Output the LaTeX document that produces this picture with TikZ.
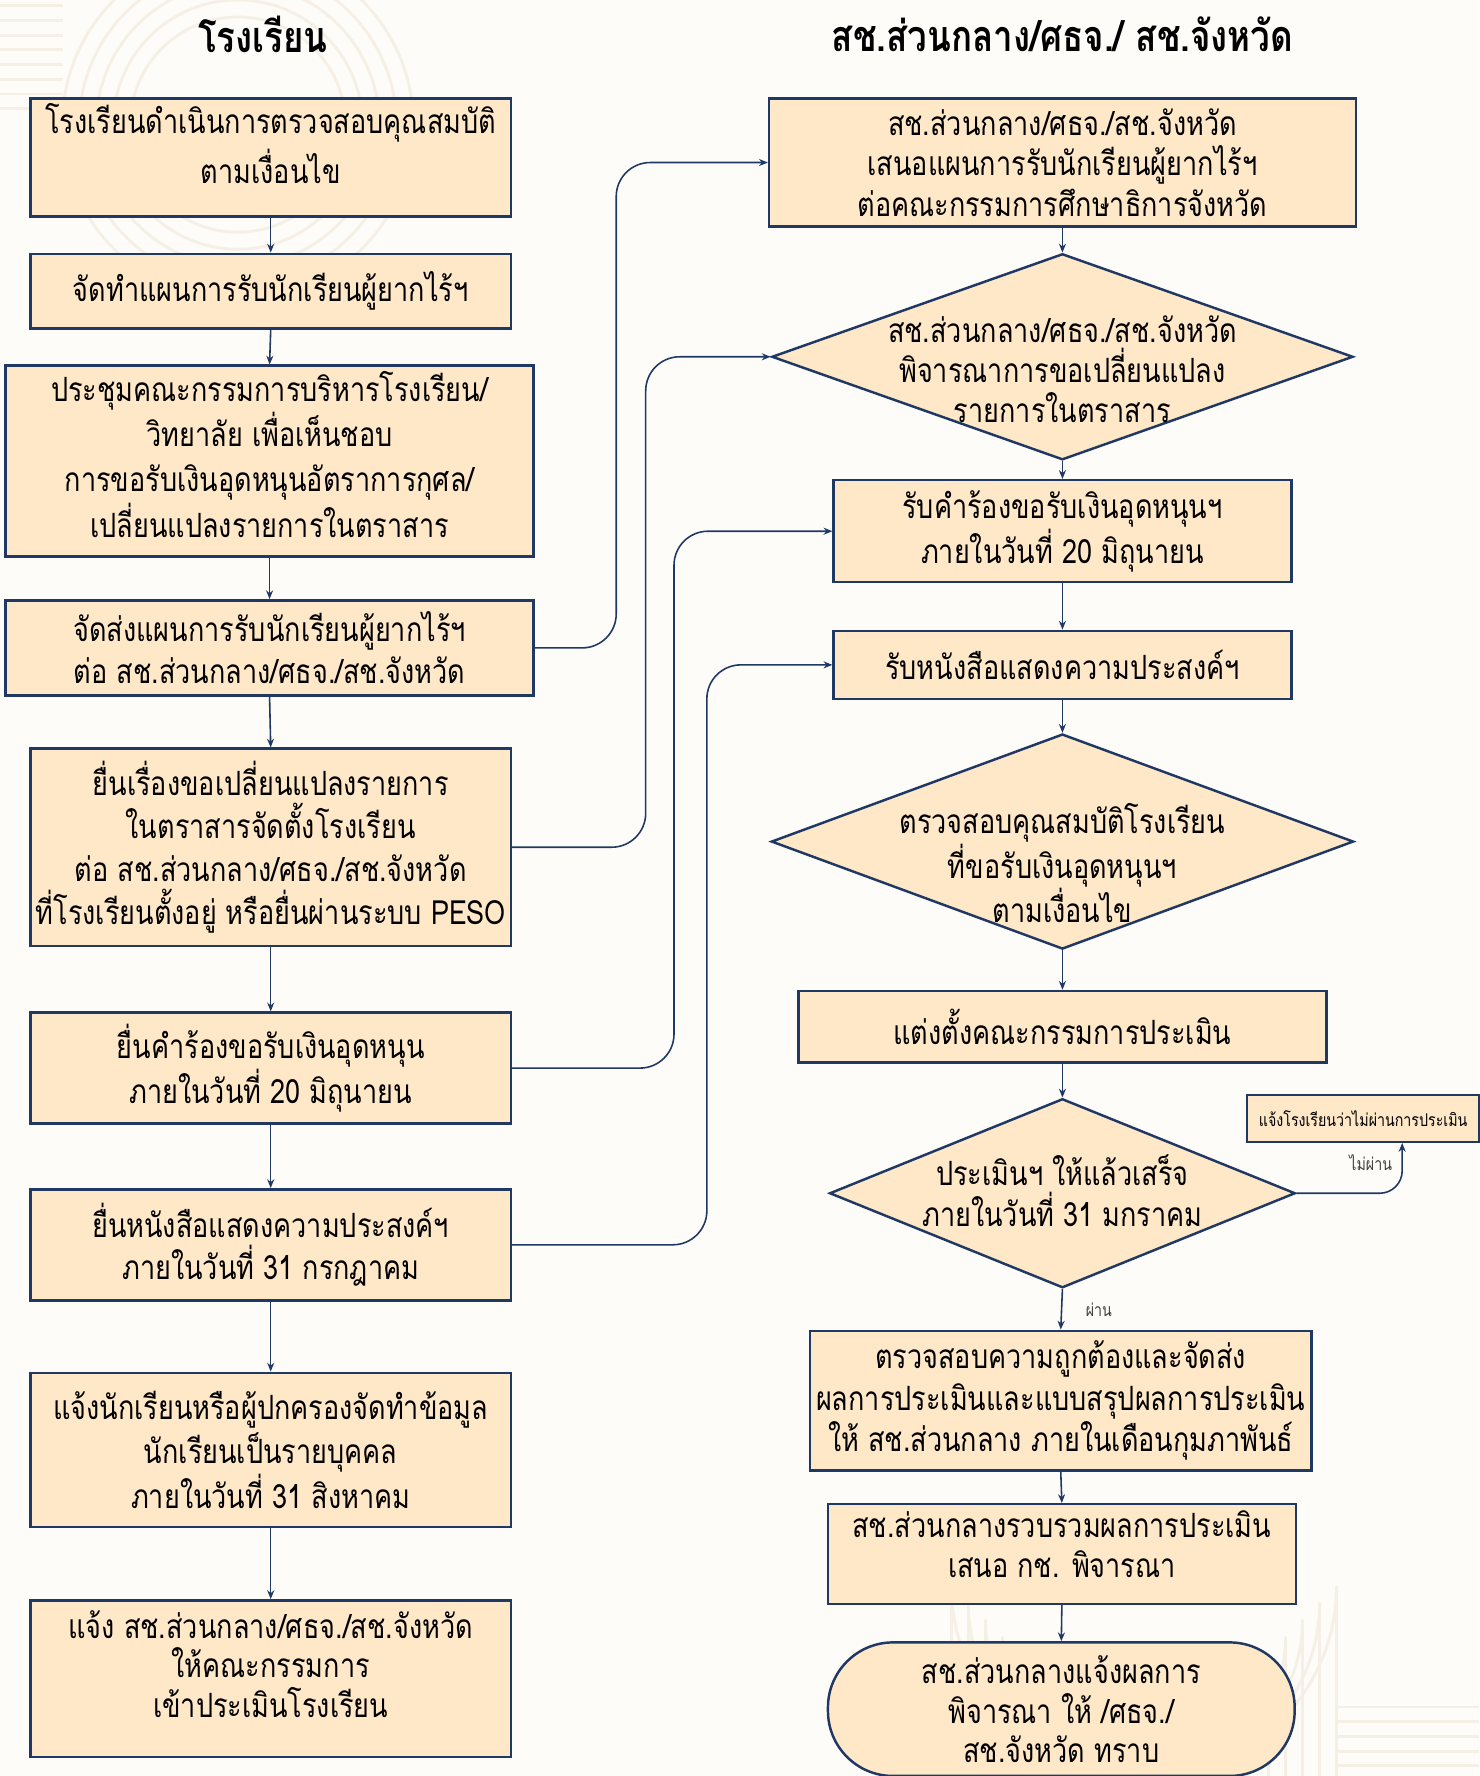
\documentclass[tikz,border=0pt]{standalone}
\usepackage{fontspec}
\setmainfont[Script=Thai, FakeStretch=0.81]{Loma}
\usetikzlibrary{shapes.geometric, arrows.meta}

\begin{document}
\begin{tikzpicture}[x=0.02265cm, y=-0.02265cm]

  % Define Colors
  \definecolor{navy}{HTML}{1F3864}
  \definecolor{peach}{HTML}{FFE8C8}
  \definecolor{paper}{HTML}{FEFCF8}
  \definecolor{faint}{HTML}{F5EFE6}
  \definecolor{greytext}{HTML}{404040}

  % Node styles
  \tikzstyle{head}=[font=\fontsize{24.5}{28}\selectfont\bfseries]
  \tikzstyle{sbox}=[rectangle, draw=navy, line width=1.4pt, fill=peach, align=center, inner sep=2pt, font=\fontsize{19}{22.6}\selectfont]
  \tikzstyle{dbox}=[diamond, draw=navy, line width=1.4pt, fill=peach, inner sep=0pt]
  \tikzstyle{dtext}=[align=center, font=\fontsize{19}{22.6}\selectfont]
  \tikzstyle{ebox}=[sbox, rounded corners=1.3cm]
  \tikzstyle{nbox}=[sbox, font=\fontsize{10}{12}\selectfont]

  \tikzstyle{link}=[navy, line width=0.9pt, rounded corners=0.68cm, -{Stealth[length=5pt, width=4pt]}]
  \tikzstyle{lbl}=[greytext, font=\fontsize{10}{12}\selectfont]
  \tikzstyle{deco}=[faint, line width=1.6pt]

  % Paper
  \fill[paper] (0,0) rectangle (1306,1568);
  \useasboundingbox (0,0) rectangle (1306,1568);

  % Background pattern
  \foreach \r in {95,110,125,140,155}
    \draw[deco] (210,110) circle (\r);
  \foreach \y in {5,18,31,44,57,70,83,96}
    \draw[deco] (0,\y) -- (56,\y);
  \foreach \r in {110,125,140,155,170}
    \draw[deco] (1010-\r,1568) -- (1010-\r,1570-\r) arc (180:0:\r) -- (1010+\r,1568);
  \foreach \y in {1507,1520,1533,1546,1559}
    \draw[deco] (1180,\y) -- (1306,\y);

  % Headings
  \node[head] (h_1) at (232,30) {โรงเรียน};
  \node[head] (h_2) at (938,30) {สช.ส่วนกลาง/ศธจ./ สช.จังหวัด};

  % School column
  \node[sbox, minimum width=9.6cm, minimum height=2.36cm, font=\fontsize{19}{28.4}\selectfont] (l_1) at (239,139) {โรงเรียนดำเนินการตรวจสอบคุณสมบัติ\\ตามเงื่อนไข\\[-12pt]\mbox{}};
  \node[sbox, minimum width=9.6cm, minimum height=1.49cm] (l_2) at (239,257) {จัดทำแผนการรับนักเรียนผู้ยากไร้ฯ};
  \node[sbox, minimum width=10.55cm, minimum height=3.81cm, font=\fontsize{19}{25.8}\selectfont] (l_3) at (238,407) {ประชุมคณะกรรมการบริหารโรงเรียน/\\วิทยาลัย เพื่อเห็นชอบ\\การขอรับเงินอุดหนุนอัตราการกุศล/\\เปลี่ยนแปลงรายการในตราสาร\\[-18pt]\mbox{}};
  \node[sbox, minimum width=10.55cm, minimum height=1.90cm, font=\fontsize{19}{23.8}\selectfont] (l_4) at (238,572) {จัดส่งแผนการรับนักเรียนผู้ยากไร้ฯ\\ต่อ สช.ส่วนกลาง/ศธจ./สช.จังหวัด};
  \node[sbox, minimum width=9.6cm, minimum height=3.94cm, font=\fontsize{19}{24.5}\selectfont] (l_5) at (239,748) {ยื่นเรื่องขอเปลี่ยนแปลงรายการ\\ในตราสารจัดตั้งโรงเรียน\\ต่อ สช.ส่วนกลาง/ศธจ./สช.จังหวัด\\ที่โรงเรียนตั้งอยู่ หรือยื่นผ่านระบบ PESO};
  \node[sbox, minimum width=9.6cm, minimum height=2.22cm] (l_6) at (239,943) {ยื่นคำร้องขอรับเงินอุดหนุน\\ภายในวันที่ 20 มิถุนายน};
  \node[sbox, minimum width=9.6cm, minimum height=2.22cm, font=\fontsize{19}{23.8}\selectfont] (l_7) at (239,1099) {ยื่นหนังสือแสดงความประสงค์ฯ\\ภายในวันที่ 31 กรกฎาคม};
  \node[sbox, minimum width=9.6cm, minimum height=3.08cm, font=\fontsize{19}{25.5}\selectfont] (l_8) at (239,1280) {แจ้งนักเรียนหรือผู้ปกครองจัดทำข้อมูล\\นักเรียนเป็นรายบุคคล\\ภายในวันที่ 31 สิงหาคม};
  \node[sbox, minimum width=9.6cm, minimum height=3.13cm] (l_9) at (239,1482) {แจ้ง สช.ส่วนกลาง/ศธจ./สช.จังหวัด\\ให้คณะกรรมการ\\เข้าประเมินโรงเรียน\\[-6pt]\mbox{}};

  % Office column
  \node[sbox, minimum width=11.73cm, minimum height=2.56cm, font=\fontsize{19}{22.9}\selectfont] (r_1) at (938,143.5) {สช.ส่วนกลาง/ศธจ./สช.จังหวัด\\เสนอแผนการรับนักเรียนผู้ยากไร้ฯ\\ต่อคณะกรรมการศึกษาธิการจังหวัด};
  \node[dbox, minimum width=11.62cm, minimum height=4.12cm] (r_2) at (938,315) {};
  \node[dtext] (r_2t) at (938,326) {สช.ส่วนกลาง/ศธจ./สช.จังหวัด\\พิจารณาการขอเปลี่ยนแปลง\\รายการในตราสาร};
  \node[sbox, minimum width=9.15cm, minimum height=2.04cm] (r_3) at (938,469) {รับคำร้องขอรับเงินอุดหนุนฯ\\ภายในวันที่ 20 มิถุนายน};
  \node[sbox, minimum width=9.15cm, minimum height=1.36cm] (r_4) at (938,587) {รับหนังสือแสดงความประสงค์ฯ};
  \node[dbox, minimum width=11.64cm, minimum height=4.30cm] (r_5) at (938,743) {};
  \node[dtext] (r_5t) at (938,762) {ตรวจสอบคุณสมบัติโรงเรียน\\ที่ขอรับเงินอุดหนุนฯ\\ตามเงื่อนไข};
  \node[sbox, minimum width=10.55cm, minimum height=1.43cm] (r_6) at (938,906.5) {แต่งตั้งคณะกรรมการประเมิน};
  \node[dbox, minimum width=9.31cm, minimum height=3.78cm] (r_7) at (938,1053.5) {};
  \node[dtext, font=\fontsize{19}{23.2}\selectfont] (r_7t) at (938,1051) {ประเมินฯ ให้แล้วเสร็จ\\ภายในวันที่ 31 มกราคม};
  \node[nbox, minimum width=4.64cm, minimum height=0.93cm] (n_1) at (1203.5,987.5) {แจ้งโรงเรียนว่าไม่ผ่านการประเมิน};
  \node[sbox, minimum width=10.03cm, minimum height=2.79cm, font=\fontsize{19}{23.8}\selectfont] (r_8) at (936.5,1236.5) {ตรวจสอบความถูกต้องและจัดส่ง\\ผลการประเมินและแบบสรุปผลการประเมิน\\ให้ สช.ส่วนกลาง ภายในเดือนกุมภาพันธ์};
  \node[sbox, minimum width=9.35cm, minimum height=1.99cm, font=\fontsize{19}{23.2}\selectfont] (r_9) at (937.5,1372) {สช.ส่วนกลางรวบรวมผลการประเมิน\\เสนอ กช. พิจารณา\\[-12pt]\mbox{}};
  \node[ebox, minimum width=9.33cm, minimum height=2.67cm] (r_10) at (937,1509) {สช.ส่วนกลางแจ้งผลการ\\พิจารณา ให้ /ศธจ./\\สช.จังหวัด ทราบ};

  % School links
  \draw[link] (l_1.south) -- (l_2.north);
  \draw[link] (l_2.south) -- (l_3.north);
  \draw[link] (l_3.south) -- (l_4.north);
  \draw[link] (l_4.south) -- (l_5.north);
  \draw[link] (l_5.south) -- (l_6.north);
  \draw[link] (l_6.south) -- (l_7.north);
  \draw[link] (l_7.south) -- (l_8.north);
  \draw[link] (l_8.south) -- (l_9.north);

  % Office links
  \draw[link] (r_1.south) -- (r_2.north);
  \draw[link] (r_2.south) -- (r_3.north);
  \draw[link] (r_3.south) -- (r_4.north);
  \draw[link] (r_4.south) -- (r_5.north);
  \draw[link] (r_5.south) -- (r_6.north);
  \draw[link] (r_6.south) -- (r_7.north);
  \draw[link] (r_7.south) -- node[lbl, midway, right=10pt] {ผ่าน} (r_8.north);
  \draw[link] (r_8.south) -- (r_9.north);
  \draw[link] (r_9.south) -- (r_10.north);
  \draw[link, rounded corners=0.45cm] (r_7.east) -| node[lbl, pos=0.8, left=2pt] {ไม่ผ่าน} ([xshift=0.78cm]n_1.south);

  % Cross links
  \draw[link] (l_4.east) -- ++(72,0) |- (r_1.west);
  \draw[link] (l_5.east) -- ++(118,0) |- (r_2.west);
  \draw[link] (l_6.east) -- ++(143,0) |- (r_3.west);
  \draw[link] (l_7.east) -- ++(172,0) |- (r_4.west);

\end{tikzpicture}
\end{document}
